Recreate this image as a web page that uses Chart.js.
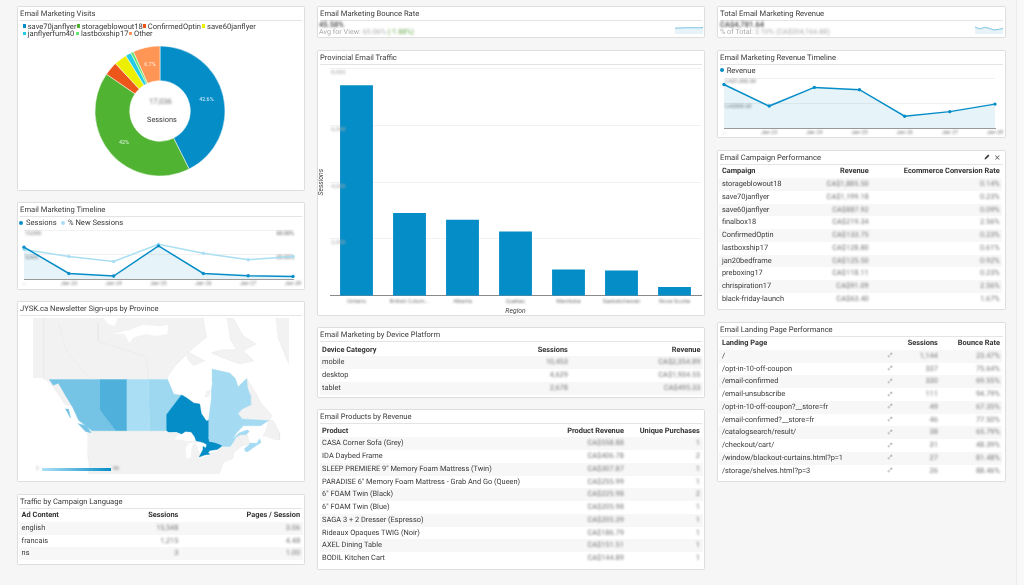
<!DOCTYPE html>
<html>
<head>
<meta charset="utf-8">
<title>Email Marketing Dashboard</title>
<script src="https://cdn.jsdelivr.net/npm/chart.js@4"></script>
<style>
  html, body { margin: 0; padding: 0; }
  body { width: 1024px; height: 585px; overflow: hidden; background: #f6f6f6; position: relative;
         font-family: Roboto, sans-serif; font-size: 7.4px; color: #3a3a3a; text-rendering: geometricPrecision; filter: blur(.25px); }
  .scrollbar { position: absolute; left: 1016px; top: 0; width: 8px; height: 585px; background: #f9f9f9; border-left: 1px solid #ececec; }
  .card { position: absolute; box-sizing: border-box; background: #fff; border: 1px solid #dedede; border-radius: 1.5px; box-shadow: 0 0 1px rgba(0,0,0,.06); }
  .title { position: absolute; left: 2px; right: 2px; top: 0; height: 13px; line-height: 13.5px; border-bottom: 1px solid #e4e4e4; font-size: 7.6px; color: #3a3a3a; padding-left: .4px; }
  canvas { position: absolute; }
  .txt { position: absolute; white-space: nowrap; }
  .bl { filter: blur(.9px); color: #777; }
  table { position: absolute; border-collapse: collapse; table-layout: fixed; }
  td, th { padding: 0 2.6px; height: 12.75px; line-height: 12.75px; white-space: nowrap; overflow: visible; font-weight: 400; font-size: 7.4px; }
  th { font-weight: 700; color: #333; }
  tr:nth-child(even) td { background: #f7f7f7; }
  .lg { position: absolute; white-space: nowrap; font-size: 7.6px; line-height: 9px; }
  .dot { position: absolute; border-radius: 50%; width: 4px; height: 4px; }
  .sq { position: absolute; width: 3.4px; height: 3.4px; }
  .ramp { position: absolute; left: 42px; top: 467.6px; width: 69px; height: 3.6px; background: linear-gradient(90deg, #aee0f5, #058dc7); }
</style>
</head>
<body>
<div class="scrollbar"></div>
<script>
// Donut
const visitLabels = ["save70janflyer", "storageblowout18", "ConfirmedOptin", "save60janflyer", "janflyerfum40", "lastboxship17", "Other"];
const visitShares = [42.6, 42, 3.4, 3.2, 1.4, 0.7, 6.7];
const visitColors = ["#058dc7", "#50b432", "#ed561b", "#edef00", "#24cbe5", "#64e572", "#ff9655"];

// Daily timelines
const dayLabels = ["...", "Jan 23", "Jan 24", "Jan 25", "Jan 26", "Jan 27", "Jan 28"];
const dailySessions = [6530, 1130, 600, 6800, 1130, 670, 530];
const dailyNewPct = [36.4, 27.6, 21.6, 42.8, 31.6, 23.6, 27.6];
const dailyRevenue = [875, 441, 816, 770, 237, 329, 480];
const bounceSpark = [42, 43, 44, 45, 45, 44, 46];
const revenueSpark = [880, 640, 820, 730, 500, 570, 690];

// Provinces bar chart
const regionLabels = ["Ontario", "British Colum...", "Alberta", "Quebec", "Manitoba", "Saskatchewan", "Nova Scotia"];
const regionSessions = [7413, 2909, 2675, 2264, 927, 891, 305];
const regionTicks = [2000, 4000, 6000, 8000];

// Sign-ups per province, the map shades from these
const signupMin = 1;
const signupMax = 90;
const signupOntario = 90;
const signupAlberta = 51;
const signupBritishColumbia = 31;
const signupManitoba = 10;
const signupQuebec = 6;
const signupNovaScotia = 5;
const signupSaskatchewan = 3;

// Outlines as [longitude, latitude]
const geoAlaska = [[-150,60.3],[-150,72],[-141,72],[-141,60.3]];
const geoPanhandle = [[-141,60.3],[-139,60],[-135.5,59.3],[-133,57],[-130.3,54.7],[-133,55],[-137,58.3]];
const geoNorth = [[-141,60],[-141,72],[-81.5,72],[-81.5,69.5],[-80.3,67],[-82.8,66.2],[-85.2,65.4],[-87.7,64.3],[-91.5,62.7],[-94.6,60.7],[-94.8,60]];
const geoCoronation = [[-115,67.5],[-108.9,68],[-103.9,68.7],[-97.7,68.5],[-94.6,68.7],[-95,67.5],[-98.9,67.2],[-102.7,67.5],[-107.6,67],[-109,66.2],[-111,67.5]];
const geoAmundsen = [[-119.5,70],[-113.2,70],[-114.5,68.6],[-117,68.9]];
const geoYukonLine = [[-135.6,69],[-132.5,64.9],[-123.8,60.2]];
const geoNunavutLine = [[-120.7,69],[-120.7,66.4],[-102.7,64],[-102,60]];
const geoBaffin = [[-72.8,69.6],[-70.3,69.6],[-66.6,67.2],[-61.9,66],[-66.6,64.95],[-62.6,63.3],[-67.8,62.8],[-72.8,63.55],[-78.4,64.6],[-74.7,65.1],[-69.1,65.1],[-71.6,66.9]];
const geoSouthampton = [[-87.7,64.85],[-80.9,63.3],[-85.2,62.5],[-87.7,63.8]];
const geoBelcher = [[-81,56.5],[-79.5,56.8],[-79,57.8],[-80.5,57.6]];
const geoGreenland = [[-54.8,71],[-53.5,66.9],[-49.8,63],[-43,60],[-40,71]];
const geoLabrador = [[-57.1,51.4],[-55.7,52.5],[-60,55.3],[-62,57.5],[-65.3,60.2],[-65,58.5],[-64,57],[-63.8,54.9],[-67,54],[-68.5,53],[-67,51.8]];
const geoNewBrunswick = [[-69,47.4],[-67.5,48],[-65,47.9],[-64.5,46.2],[-64,45.9],[-64.8,45.5],[-67,45.1],[-67.8,46]];
const geoNewfoundland = [[-59.3,47.7],[-58,49],[-57,51.5],[-55.5,51.5],[-53,48.5],[-53,46.7],[-55.5,46.9]];
const geoUsa = [[-124.7,48.4],[-123,49],[-95.15,49],[-94.6,48.7],[-89.5,48],[-84.5,46.5],[-83,46],[-82.4,43],[-83.1,42.2],[-79,42.9],[-79,43.3],[-76.3,44.2],[-74.7,45],[-71.4,45],[-70,46.5],[-69,47.4],[-67.8,47],[-67,45.1],[-70,43.5],[-70.5,41.7],[-74,40.7],[-75.5,37.5],[-76,30],[-125,30],[-124,40],[-124.7,43]];
const geoSuperior = [[-92,46.7],[-91.5,47.6],[-89.5,48.2],[-88,48.8],[-85,47.9],[-84.6,46.5],[-87,46.5],[-90,46.7]];
const geoMichigan = [[-87.7,41.7],[-86.3,42],[-86,44.5],[-85,46],[-87,45.7],[-88,44.5],[-87.8,43]];
const geoHuron = [[-84.5,45.8],[-83,46],[-81.5,46],[-80.2,45.5],[-80.5,44.6],[-81.5,43.2],[-82.4,43],[-83.3,44],[-83.5,45]];
const geoErie = [[-83.4,41.7],[-79,42.7],[-79,42.9],[-81,42.7],[-83,42.1]];
const geoLakeOntario = [[-79.7,43.3],[-76.3,43.5],[-76.3,44.1],[-79,43.9]];
const geoBritishColumbia = [[-139,60],[-120,60],[-120,53.8],[-114.1,49],[-123,49],[-125,50],[-128,51.5],[-130.3,54.5],[-133,57],[-135.5,59.3],[-137.5,58.9]];
const geoVancouverIsland = [[-128.3,50.7],[-125,50.2],[-123.3,48.5],[-125.5,48.8]];
const geoHaidaGwaii = [[-133,54],[-131.7,54],[-131,52],[-132,53]];
const geoAlberta = [[-120,60],[-110,60],[-110,49],[-114.1,49],[-120,53.8]];
const geoSaskatchewan = [[-110,60],[-102,60],[-101.4,49],[-110,49]];
const geoManitoba = [[-102,60],[-94.8,60],[-92.5,57.2],[-89,56.85],[-95.15,52.8],[-95.15,49],[-101.4,49]];
const geoOntario = [[-95.15,49],[-95.15,52.8],[-89.6,57],[-88,56.5],[-85,55.3],[-82.8,55.1],[-82.2,53],[-80.3,51.3],[-79.5,51.5],[-79.5,47.3],[-79.2,46.3],[-77,46],[-74.4,45.3],[-74.7,45],[-76.3,44.2],[-79,43.9],[-79.7,43.3],[-79,42.9],[-81,42.7],[-83,42.1],[-82.4,43],[-81.7,44],[-81.6,45],[-80.5,44.6],[-80.2,45.5],[-81.5,46],[-84.2,46.5],[-84.7,47.5],[-86,48.7],[-88.2,48.8],[-89.5,48.2],[-91.5,48.7],[-94.6,48.7]];
const geoQuebec = [[-79.5,51.5],[-79,54],[-78.5,56],[-78.5,58],[-78,59.5],[-78.2,61.9],[-71.6,61.2],[-69.5,60.2],[-68.5,58.6],[-65.3,60.2],[-65,58.5],[-64,57],[-63.8,54.9],[-67,54],[-68.5,53],[-67,51.8],[-57.1,51.4],[-60,50.2],[-66.5,50.2],[-69,48.5],[-70.5,47],[-68,48.5],[-65,49.2],[-64.3,48.8],[-65.5,48],[-67.5,48],[-69.2,47.4],[-70,46.4],[-71.4,45],[-74.7,45],[-74.4,45.3],[-77,46],[-79.2,46.3],[-79.5,47.3]];
const geoNovaScotia = [[-66.2,43.8],[-66,44.5],[-64.5,45.3],[-64,45.9],[-61.5,45.8],[-60.5,47],[-59.9,46],[-63,44.6],[-65,43.5]];

// Tables
const deviceNames = ["mobile", "desktop", "tablet"];
const deviceSessions = ["10,453", "4,629", "2,678"];
const deviceRevenue = ["CA$2,354.89", "CA$1,934.55", "CA$495.33"];

const productNames = ["CASA Corner Sofa (Grey)", "IDA Daybed Frame", "SLEEP PREMIERE 9\" Memory Foam Mattress (Twin)", "PARADISE 6\" Memory Foam Mattress - Grab And Go (Queen)", "6\" FOAM Twin (Black)", "6\" FOAM Twin (Blue)", "SAGA 3 + 2 Dresser (Espresso)", "Rideaux Opaques TWIG (Noir)", "AXEL Dining Table", "BODIL Kitchen Cart"];
const productRevenue = ["CA$558.88", "CA$406.78", "CA$307.87", "CA$255.99", "CA$225.98", "CA$205.98", "CA$205.39", "CA$186.79", "CA$151.51", "CA$144.89"];
const productPurchases = ["1", "2", "1", "1", "2", "1", "1", "1", "1", "1"];

const languageNames = ["english", "francais", "ns"];
const languageSessions = ["15,548", "1,215", "3"];
const languagePages = ["3.06", "4.48", "1.00"];

const campaignNames = ["storageblowout18", "save70janflyer", "save60janflyer", "finalbox18", "ConfirmedOptin", "lastboxship17", "jan20bedframe", "preboxing17", "chrispiration17", "black-friday-launch"];
const campaignRevenue = ["CA$1,885.50", "CA$1,199.18", "CA$887.92", "CA$219.34", "CA$133.75", "CA$128.80", "CA$125.50", "CA$118.11", "CA$91.09", "CA$63.40"];
const campaignRates = ["0.14%", "0.23%", "0.09%", "2.56%", "0.23%", "0.61%", "0.92%", "0.23%", "2.56%", "1.67%"];

const landingPages = ["/", "/opt-in-10-off-coupon", "/email-confirmed", "/email-unsubscribe", "/opt-in-10-off-coupon?__store=fr", "/email-confirmed?__store=fr", "/catalogsearch/result/", "/checkout/cart/", "/window/blackout-curtains.html?p=1", "/storage/shelves.html?p=3"];
const landingSessions = ["1,144", "337", "330", "111", "49", "46", "38", "31", "27", "26"];
const landingBounce = ["23.47%", "75.64%", "69.55%", "94.79%", "67.35%", "77.50%", "65.79%", "48.39%", "81.48%", "88.46%"];

const BLUE = "#058dc7";
const PALE = "#aadff3";
const AREA = "rgba(5,141,199,.1)";

Chart.defaults.font.family = "Roboto, sans-serif";
Chart.defaults.animation = false;
Chart.defaults.responsive = false;
Chart.defaults.plugins.legend.display = false;
Chart.defaults.plugins.tooltip.enabled = false;

// tick labels are smudged in the original screenshot
const softTicks = {
  id: "softTicks",
  defaults: { amount: 0.8 },
  beforeDraw(chart, args, opts) {
    Object.values(chart.scales).forEach(s => {
      if (s.softened) return;
      const draw = s.drawLabels;
      s.drawLabels = function (area) {
        const ctx = this.ctx;
        ctx.save();
        ctx.filter = "blur(" + opts.amount + "px)";
        draw.call(this, area);
        ctx.restore();
      };
      s.softened = true;
    });
  },
};
Chart.register(softTicks);

function el(tag, cls, left, top, text) {
  const node = document.createElement(tag);
  if (cls) node.className = cls;
  if (left !== null) node.style.left = left + "px";
  if (top !== null) node.style.top = top + "px";
  if (text !== undefined) node.textContent = text;
  document.body.appendChild(node);
  return node;
}

function card(x, y, w, h, title) {
  const c = el("div", "card", x, y);
  c.style.width = w + "px";
  c.style.height = h + "px";
  const t = document.createElement("div");
  t.className = "title";
  t.textContent = title;
  c.appendChild(t);
}

function canvas(x, y, w, h) {
  const cv = el("canvas", "", x, y);
  cv.width = w;
  cv.height = h;
  return cv;
}

function table(x, y, widths, aligns, softCols, headers, columns) {
  const tb = el("table", "", x, y);
  tb.style.width = widths.reduce((a, b) => a + b, 0) + "px";
  const cg = document.createElement("colgroup");
  widths.forEach(w => {
    const col = document.createElement("col");
    col.style.width = w + "px";
    cg.appendChild(col);
  });
  tb.appendChild(cg);
  const body = document.createElement("tbody");
  const head = document.createElement("tr");
  headers.forEach((h, i) => {
    const th = document.createElement("th");
    th.textContent = h;
    th.style.textAlign = aligns[i] === "r" ? "right" : "left";
    head.appendChild(th);
  });
  body.appendChild(head);
  columns[0].forEach((_, row) => {
    const tr = document.createElement("tr");
    columns.forEach((col, i) => {
      const td = document.createElement("td");
      td.style.textAlign = aligns[i] === "r" ? "right" : "left";
      if (softCols.includes(i)) {
        const sp = document.createElement("span");
        sp.className = "bl";
        sp.style.display = "inline-block";
        sp.textContent = col[row];
        td.appendChild(sp);
      } else if (col[row] === "#link") {
        td.innerHTML = '<svg width="6" height="6" viewBox="0 0 10 10" style="vertical-align:-.5px"><path d="M4 6 L8 2 M3 5 L1.5 6.5 a2 2 0 0 0 2 2 L5 7 M5 3 L6.5 1.5 a2 2 0 0 1 2 2 L7 5" fill="none" stroke="#999" stroke-width="1"/></svg>';
        td.style.textAlign = "center";
      } else {
        td.textContent = col[row];
      }
      tr.appendChild(td);
    });
    body.appendChild(tr);
  });
  tb.appendChild(body);
}

// ---- cards ----
card(16.7, 6, 288.5, 185, "Email Marketing Visits");
card(16.7, 201.5, 288.5, 88.5, "Email Marketing Timeline");
card(16.7, 301, 288.5, 181, "JYSK.ca Newsletter Sign-ups by Province");
card(16.7, 493.7, 288.5, 71.5, "Traffic by Campaign Language");

card(316.7, 5.7, 388.6, 32.3, "Email Marketing Bounce Rate");
card(316.7, 49.7, 388.6, 266, "Provincial Email Traffic");
card(316.7, 327.3, 388.6, 71, "Email Marketing by Device Platform");
card(316.7, 409.3, 388.6, 160.7, "Email Products by Revenue");

card(716.7, 6, 289, 32, "Total Email Marketing Revenue");
card(716.7, 49.7, 289, 88.5, "Email Marketing Revenue Timeline");
card(716.7, 150, 289, 160, "Email Campaign Performance");
card(716.7, 321.7, 289, 160.6, "Email Landing Page Performance");

// ---- donut ----
const donutLabels = {
  id: "donutLabels",
  afterDatasetsDraw(chart) {
    const ctx = chart.ctx;
    const arcs = chart.getDatasetMeta(0).data;
    ctx.save();
    ctx.font = "5.4px Roboto";
    ctx.fillStyle = "rgba(255,255,255,.85)";
    ctx.textAlign = "center";
    ctx.textBaseline = "middle";
    arcs.forEach((arc, i) => {
      if (visitShares[i] < 5) return;
      const p = arc.tooltipPosition();
      ctx.fillText(visitShares[i] + "%", p.x, p.y);
    });
    ctx.restore();
  },
};
new Chart(canvas(90, 41, 140, 140), {
  type: "doughnut",
  data: {
    labels: visitLabels,
    datasets: [{ data: visitShares, backgroundColor: visitColors, borderColor: "#fff", borderWidth: .5 }],
  },
  options: { radius: 65, cutout: 32.5, layout: { padding: 0 } },
  plugins: [donutLabels],
});
el("div", "txt bl", 149, 97, "17,036").style.fontSize = "7.6px";
el("div", "txt", 147, 115, "Sessions").style.fontSize = "7.4px";

// legend rows of the donut
const legendSlots = [[22.7, 26], [76.7, 26], [142.7, 26], [202, 26], [22.7, 33.4], [76, 33.4], [129, 33.4]];
visitLabels.forEach((name, i) => {
  const [lx, ly] = legendSlots[i];
  const mark = el("div", "sq", lx, ly - 1.7);
  mark.style.background = visitColors[i];
  el("div", "lg", lx + 5, ly - 4.5, name);
});

// ---- timelines ----
function dayAxes(left) {
  return {
    x: {
      grid: { display: false, drawTicks: false },
      border: { color: "#9a9a9a" },
      ticks: { autoSkip: false, maxRotation: 0, padding: 1.5, color: "#777", font: { size: 5.4 } },
      afterFit(s) { s.height = 10; },
    },
    y: Object.assign({
      position: "left",
      grid: { color: "#f1f1f1", drawTicks: false },
      border: { display: false },
    }, left),
  };
}

new Chart(canvas(17, 226, 288, 63), {
  type: "line",
  data: {
    labels: dayLabels,
    datasets: [
      { label: "Sessions", data: dailySessions, yAxisID: "y", borderColor: BLUE, backgroundColor: AREA, fill: true, borderWidth: 1.5, pointRadius: 1.7, pointBackgroundColor: BLUE, pointBorderWidth: 0, tension: 0, order: 1 },
      { label: "% New Sessions", data: dailyNewPct, yAxisID: "y1", borderColor: PALE, borderWidth: 1.5, pointRadius: 1.7, pointBackgroundColor: PALE, pointBorderWidth: 0, tension: 0, order: 2 },
    ],
  },
  options: {
    layout: { padding: { top: 3, left: 5, right: 10 } },
    scales: Object.assign(dayAxes({
      min: 0, max: 10000,
      ticks: { stepSize: 5000, mirror: true, padding: 1, labelOffset: 3, color: "#777", font: { size: 5.4 },
               callback: v => v ? v.toLocaleString("en-US") : "" },
    }), {
      y1: {
        position: "right", min: 0, max: 60,
        grid: { display: false, drawTicks: false },
        border: { display: false },
        ticks: { stepSize: 30, mirror: true, padding: 1, labelOffset: 3, color: "#555", font: { size: 5.4 },
                 callback: v => v ? v.toFixed(2) + "%" : "" },
      },
    }),
  },
});
const tl1 = el("div", "dot", 19, 220.7); tl1.style.background = BLUE;
el("div", "lg", 26, 218.2, "Sessions");
const tl2 = el("div", "dot", 60.7, 220.7); tl2.style.background = PALE;
el("div", "lg", 68, 218.2, "% New Sessions");

new Chart(canvas(717, 74, 288, 64), {
  type: "line",
  data: {
    labels: dayLabels,
    datasets: [{ label: "Revenue", data: dailyRevenue, borderColor: BLUE, backgroundColor: AREA, fill: true, borderWidth: 1.5, pointRadius: 1.7, pointBackgroundColor: BLUE, pointBorderWidth: 0, tension: 0 }],
  },
  options: {
    layout: { padding: { top: 3, left: 5, right: 10 } },
    scales: dayAxes({
      min: 0, max: 1000,
      ticks: { stepSize: 500, mirror: true, padding: 1, labelOffset: 3.3, color: "#777", font: { size: 5.4 },
               callback: v => v ? "CA$" + v.toLocaleString("en-US", { minimumFractionDigits: 2 }) : "" },
    }),
    plugins: { softTicks: { amount: 0.9 } },
  },
});
const tl3 = el("div", "dot", 719.7, 68); tl3.style.background = BLUE;
el("div", "lg", 726.7, 65.5, "Revenue");

// ---- sparklines ----
function spark(cv, values, max) {
  new Chart(cv, {
    type: "line",
    data: {
      labels: values.map((_, i) => i),
      datasets: [{ data: values, borderColor: "#4aa9d8", backgroundColor: "rgba(5,141,199,.1)", fill: true, borderWidth: .7, pointRadius: 0, tension: 0 }],
    },
    options: {
      layout: { padding: 0 },
      scales: { x: { display: false }, y: { display: false, min: 0, max } },
    },
  });
}
spark(canvas(675, 27, 28, 7), bounceSpark, 50);
spark(canvas(975, 26, 28, 8), revenueSpark, 1000);

// ---- KPI text ----
const kpiBig = el("div", "txt bl", 319, 20, "45.58%");
kpiBig.style.cssText += "font-size:7.6px;color:#444;font-weight:500;";
const kpi1 = el("div", "txt", 319, 27.4);
kpi1.style.cssText += "font-size:7.2px;color:#aaa;";
kpi1.innerHTML = 'Avg for View: <span class="bl" style="display:inline-block;color:#aaa">65.06%</span> <span class="bl" style="display:inline-block;color:#6aa84f">(-1.88%)</span>';
const kpiRev = el("div", "txt bl", 720, 20, "CA$4,781.64");
kpiRev.style.cssText += "font-size:7.6px;color:#444;font-weight:500;";
const kpi2 = el("div", "txt", 720, 27.4);
kpi2.style.cssText += "font-size:7.2px;color:#aaa;";
kpi2.innerHTML = '% of Total: <span class="bl" style="display:inline-block;color:#aaa">3.10% (CA$204,166.88)</span>';

// ---- bars ----
new Chart(canvas(317, 64, 388, 251), {
  type: "bar",
  data: {
    labels: regionLabels,
    datasets: [{ data: regionSessions, backgroundColor: BLUE, categoryPercentage: 1, barPercentage: .62 }],
  },
  options: {
    layout: { padding: { top: 4.3, left: 0, right: 4 } },
    plugins: { softTicks: { amount: 0.85 } },
    scales: {
      x: {
        grid: { display: false, drawTicks: false },
        border: { color: "#8a8a8a" },
        ticks: { autoSkip: false, maxRotation: 0, padding: 2.5, color: "#777", font: { size: 5.8 } },
        title: { display: true, text: "Region", color: "#444", font: { size: 6.8, style: "italic" }, padding: { top: 0, bottom: 0 } },
        afterFit(s) { s.height = 19.3; },
      },
      y: {
        min: 0, max: 8000,
        afterBuildTicks(s) { s.ticks = regionTicks.map(value => ({ value })); },
        grid: { color: "#f2f2f2", drawTicks: false },
        border: { display: false },
        ticks: { mirror: true, padding: 1, labelOffset: 4, color: "#aaa", font: { size: 6 }, z: 2,
                 callback: v => v.toLocaleString("en-US") },
        title: { display: true, text: "Sessions", color: "#444", font: { size: 6.8, style: "italic" }, padding: 0 },
        afterFit(s) { s.width = 13; },
      },
    },
  },
});

// ---- map ----
const mercator = lat => 180 / Math.PI * Math.log(Math.tan(Math.PI / 4 + lat * Math.PI / 360));
const shade = v => {
  const t = (v - signupMin) / (signupMax - signupMin);
  const c = [174 + (5 - 174) * t, 224 + (141 - 224) * t, 245 + (199 - 245) * t].map(Math.round);
  return "rgb(" + c.join(",") + ")";
};
const region = (outline, fill, line) => ({
  data: outline.map(([lon, lat]) => ({ x: lon, y: mercator(lat) })),
  showLine: true, fill: fill ? "shape" : false, backgroundColor: fill || "transparent",
  borderColor: line || fill, borderWidth: .4, pointRadius: 0, tension: 0,
});
const LAND = "#f2f2f2";
const EDGE = "#e3e3e3";
const WATER = "#ffffff";
const mapLayers = [
  region(geoAlaska, LAND, EDGE), region(geoPanhandle, LAND, EDGE), region(geoNorth, LAND, EDGE),
  region(geoCoronation, WATER), region(geoAmundsen, WATER),
  region(geoYukonLine, null, EDGE), region(geoNunavutLine, null, EDGE),
  region(geoBaffin, LAND, EDGE), region(geoSouthampton, LAND, EDGE), region(geoBelcher, LAND, EDGE), region(geoGreenland, LAND, EDGE),
  region(geoLabrador, LAND, EDGE), region(geoNewBrunswick, LAND, EDGE), region(geoNewfoundland, LAND, EDGE),
  region(geoUsa, LAND, EDGE),
  region(geoSuperior, WATER), region(geoMichigan, WATER), region(geoHuron, WATER), region(geoErie, WATER), region(geoLakeOntario, WATER),
  region(geoBritishColumbia, shade(signupBritishColumbia)), region(geoVancouverIsland, shade(signupBritishColumbia)), region(geoHaidaGwaii, shade(signupBritishColumbia)),
  region(geoAlberta, shade(signupAlberta)), region(geoSaskatchewan, shade(signupSaskatchewan)), region(geoManitoba, shade(signupManitoba)),
  region(geoOntario, shade(signupOntario)), region(geoQuebec, shade(signupQuebec)), region(geoNovaScotia, shade(signupNovaScotia)),
];
mapLayers.forEach((layer, i) => { layer.order = mapLayers.length - i; });
new Chart(canvas(33, 318, 256, 156), {
  type: "scatter",
  data: { datasets: mapLayers },
  options: {
    layout: { padding: 0 },
    scales: {
      x: { display: false, min: -145, max: -49.5 },
      y: { display: false, min: 40.2, max: 98.4 },
    },
  },
});
el("div", "ramp", null, null);
const rampLow = el("div", "txt bl", 36, 465.5, String(signupMin)); rampLow.style.fontSize = "5.4px";
const rampHigh = el("div", "txt bl", 113, 465.5, String(signupMax)); rampHigh.style.fontSize = "5.4px";

// ---- tables ----
table(19, 509, [100, 62, 121.7], ["l", "r", "r"], [1, 2], ["Ad Content", "Sessions", "Pages / Session"], [languageNames, languageSessions, languagePages]);
table(319.5, 343.6, [150, 101, 132.5], ["l", "r", "r"], [1, 2], ["Device Category", "Sessions", "Revenue"], [deviceNames, deviceSessions, deviceRevenue]);
table(319.5, 424.6, [217, 90, 76], ["l", "r", "r"], [1, 2], ["Product", "Product Revenue", "Unique Purchases"], [productNames, productRevenue, productPurchases]);
table(719.3, 165.3, [80, 72, 131], ["l", "r", "r"], [1, 2], ["Campaign", "Revenue", "Ecommerce Conversion Rate"], [campaignNames, campaignRevenue, campaignRates]);
table(719.3, 337, [164.7, 12, 44.5, 62], ["l", "l", "r", "r"], [2, 3], ["Landing Page", "", "Sessions", "Bounce Rate"], [landingPages, landingPages.map(() => "#link"), landingSessions, landingBounce]);

const pencil = el("div", "txt", 983.5, 153);
pencil.innerHTML = '<svg width="6" height="6" viewBox="0 0 10 10"><path d="M1 9 L1.5 6.5 L7 1 L9 3 L3.5 8.5 Z" fill="#333"/></svg>';
const closeX = el("div", "txt", 994, 152.5, "\u00d7"); closeX.style.cssText += "font:8px 'DejaVu Sans';color:#555;";
</script>
</body>
</html>
